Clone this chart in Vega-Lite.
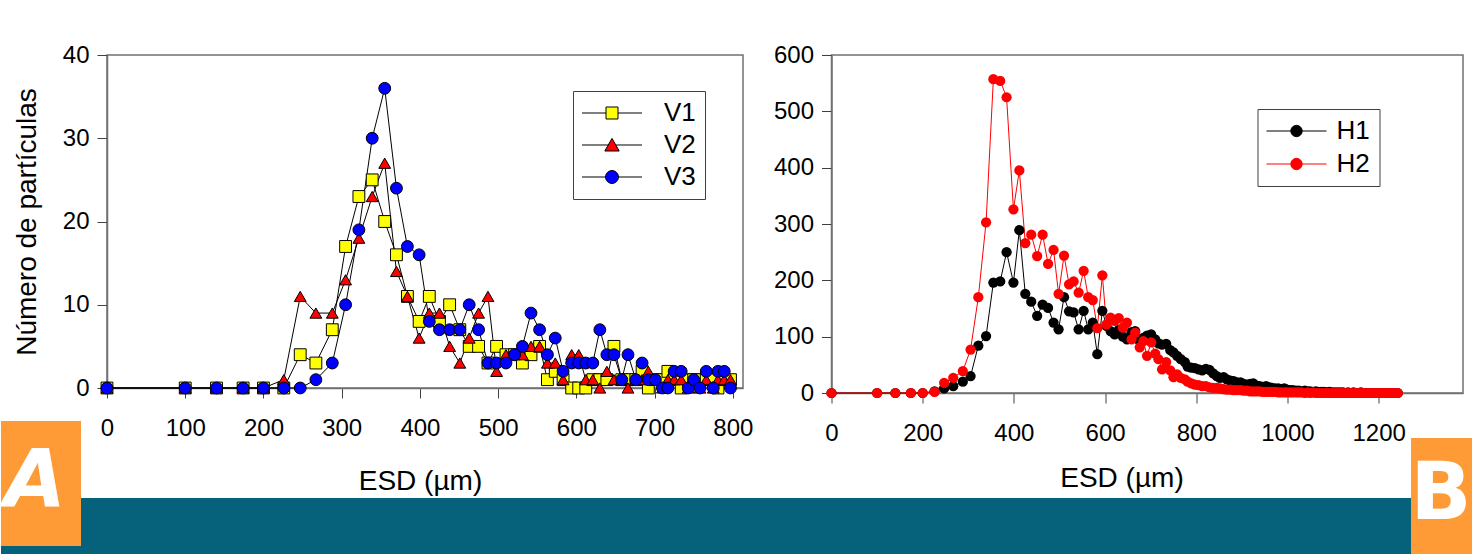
{
"$schema": "https://vega.github.io/schema/vega-lite/v6.json",
"background": "white",
"padding": {"left": 0, "right": 0, "top": 42, "bottom": 0},
"columns": 2,
"bounds": "flush",
"spacing": {"row": 105, "column": 88.5},
"config": {
  "font": "Liberation Sans",
  "view": {"stroke": "#707070", "strokeWidth": 1.5},
  "axis": {"grid": false, "domainColor": "#707070", "domainWidth": 1.5, "tickColor": "#404040", "tickSize": 10, "tickWidth": 1,
    "labelFont": "Liberation Sans", "labelFontSize": 24, "labelColor": "black", "labelFlush": false, "labelOverlap": false,
    "titleFont": "Liberation Sans", "titleFontSize": 28, "titleFontWeight": "normal", "titleColor": "black"}
},
"datasets": {
"dsA": [
{"s":"V1","esd":0,"n":0},{"s":"V1","esd":100,"n":0},{"s":"V1","esd":140,"n":0},{"s":"V1","esd":174,"n":0},{"s":"V1","esd":200,"n":0},{"s":"V1","esd":226,"n":0},{"s":"V1","esd":247,"n":4},{"s":"V1","esd":267,"n":3},{"s":"V1","esd":288,"n":7},{"s":"V1","esd":305,"n":17},{"s":"V1","esd":322,"n":23},{"s":"V1","esd":339,"n":25},{"s":"V1","esd":355,"n":20},{"s":"V1","esd":370,"n":16},{"s":"V1","esd":384,"n":11},{"s":"V1","esd":399,"n":8},{"s":"V1","esd":412,"n":11},{"s":"V1","esd":425,"n":8},{"s":"V1","esd":438,"n":10},{"s":"V1","esd":451,"n":7},{"s":"V1","esd":463,"n":5},{"s":"V1","esd":475,"n":5},{"s":"V1","esd":487,"n":3},{"s":"V1","esd":498,"n":5},{"s":"V1","esd":510,"n":4},{"s":"V1","esd":521,"n":4},{"s":"V1","esd":531,"n":3},{"s":"V1","esd":542,"n":4},{"s":"V1","esd":553,"n":5},{"s":"V1","esd":563,"n":1},{"s":"V1","esd":573,"n":2},{"s":"V1","esd":583,"n":1},{"s":"V1","esd":594,"n":0},{"s":"V1","esd":603,"n":0},{"s":"V1","esd":612,"n":0},{"s":"V1","esd":621,"n":1},{"s":"V1","esd":630,"n":1},{"s":"V1","esd":639,"n":1},{"s":"V1","esd":648,"n":5},{"s":"V1","esd":658,"n":1},{"s":"V1","esd":666,"n":1},{"s":"V1","esd":676,"n":1},{"s":"V1","esd":684,"n":2},{"s":"V1","esd":692,"n":0},{"s":"V1","esd":701,"n":1},{"s":"V1","esd":710,"n":1},{"s":"V1","esd":717,"n":2},{"s":"V1","esd":725,"n":1},{"s":"V1","esd":734,"n":0},{"s":"V1","esd":743,"n":1},{"s":"V1","esd":750,"n":1},{"s":"V1","esd":758,"n":1},{"s":"V1","esd":766,"n":1},{"s":"V1","esd":775,"n":1},{"s":"V1","esd":781,"n":0},{"s":"V1","esd":789,"n":1},{"s":"V1","esd":797,"n":1},
{"s":"V2","esd":0,"n":0},{"s":"V2","esd":100,"n":0},{"s":"V2","esd":140,"n":0},{"s":"V2","esd":174,"n":0},{"s":"V2","esd":200,"n":0},{"s":"V2","esd":226,"n":1},{"s":"V2","esd":247,"n":11},{"s":"V2","esd":267,"n":9},{"s":"V2","esd":288,"n":9},{"s":"V2","esd":305,"n":13},{"s":"V2","esd":322,"n":18},{"s":"V2","esd":339,"n":23},{"s":"V2","esd":355,"n":27},{"s":"V2","esd":370,"n":14},{"s":"V2","esd":384,"n":11},{"s":"V2","esd":399,"n":6},{"s":"V2","esd":412,"n":9},{"s":"V2","esd":425,"n":9},{"s":"V2","esd":438,"n":5},{"s":"V2","esd":451,"n":3},{"s":"V2","esd":463,"n":6},{"s":"V2","esd":475,"n":9},{"s":"V2","esd":487,"n":11},{"s":"V2","esd":498,"n":2},{"s":"V2","esd":510,"n":4},{"s":"V2","esd":521,"n":4},{"s":"V2","esd":531,"n":4},{"s":"V2","esd":542,"n":5},{"s":"V2","esd":553,"n":5},{"s":"V2","esd":563,"n":3},{"s":"V2","esd":573,"n":3},{"s":"V2","esd":583,"n":1},{"s":"V2","esd":594,"n":4},{"s":"V2","esd":603,"n":4},{"s":"V2","esd":612,"n":1},{"s":"V2","esd":621,"n":1},{"s":"V2","esd":630,"n":0},{"s":"V2","esd":639,"n":2},{"s":"V2","esd":648,"n":1},{"s":"V2","esd":658,"n":1},{"s":"V2","esd":666,"n":0},{"s":"V2","esd":676,"n":1},{"s":"V2","esd":684,"n":1},{"s":"V2","esd":692,"n":2},{"s":"V2","esd":701,"n":1},{"s":"V2","esd":710,"n":0},{"s":"V2","esd":717,"n":1},{"s":"V2","esd":725,"n":1},{"s":"V2","esd":734,"n":1},{"s":"V2","esd":743,"n":0},{"s":"V2","esd":750,"n":1},{"s":"V2","esd":758,"n":0},{"s":"V2","esd":766,"n":1},{"s":"V2","esd":775,"n":0},{"s":"V2","esd":781,"n":1},{"s":"V2","esd":789,"n":1},{"s":"V2","esd":797,"n":1},
{"s":"V3","esd":0,"n":0},{"s":"V3","esd":100,"n":0},{"s":"V3","esd":140,"n":0},{"s":"V3","esd":174,"n":0},{"s":"V3","esd":200,"n":0},{"s":"V3","esd":226,"n":0},{"s":"V3","esd":247,"n":0},{"s":"V3","esd":267,"n":1},{"s":"V3","esd":288,"n":3},{"s":"V3","esd":305,"n":10},{"s":"V3","esd":322,"n":19},{"s":"V3","esd":339,"n":30},{"s":"V3","esd":355,"n":36},{"s":"V3","esd":370,"n":24},{"s":"V3","esd":384,"n":17},{"s":"V3","esd":399,"n":16},{"s":"V3","esd":412,"n":8},{"s":"V3","esd":425,"n":7},{"s":"V3","esd":438,"n":7},{"s":"V3","esd":451,"n":7},{"s":"V3","esd":463,"n":10},{"s":"V3","esd":475,"n":7},{"s":"V3","esd":487,"n":3},{"s":"V3","esd":498,"n":3},{"s":"V3","esd":510,"n":3},{"s":"V3","esd":521,"n":4},{"s":"V3","esd":531,"n":5},{"s":"V3","esd":542,"n":9},{"s":"V3","esd":553,"n":7},{"s":"V3","esd":563,"n":4},{"s":"V3","esd":573,"n":6},{"s":"V3","esd":583,"n":2},{"s":"V3","esd":594,"n":3},{"s":"V3","esd":603,"n":3},{"s":"V3","esd":612,"n":3},{"s":"V3","esd":621,"n":3},{"s":"V3","esd":630,"n":7},{"s":"V3","esd":639,"n":4},{"s":"V3","esd":648,"n":4},{"s":"V3","esd":658,"n":1},{"s":"V3","esd":666,"n":4},{"s":"V3","esd":676,"n":1},{"s":"V3","esd":684,"n":3},{"s":"V3","esd":692,"n":1},{"s":"V3","esd":701,"n":1},{"s":"V3","esd":710,"n":0},{"s":"V3","esd":717,"n":0},{"s":"V3","esd":725,"n":2},{"s":"V3","esd":734,"n":2},{"s":"V3","esd":743,"n":0},{"s":"V3","esd":750,"n":1},{"s":"V3","esd":758,"n":0},{"s":"V3","esd":766,"n":2},{"s":"V3","esd":775,"n":0},{"s":"V3","esd":781,"n":2},{"s":"V3","esd":789,"n":2},{"s":"V3","esd":797,"n":0}
],
"dsB": [
{"s":"H1","esd":0,"n":0},{"s":"H1","esd":100,"n":0},{"s":"H1","esd":140,"n":0},{"s":"H1","esd":174,"n":0},{"s":"H1","esd":200,"n":0},{"s":"H1","esd":226,"n":3},{"s":"H1","esd":247,"n":8},{"s":"H1","esd":267,"n":12},{"s":"H1","esd":288,"n":20},{"s":"H1","esd":305,"n":30},{"s":"H1","esd":322,"n":84},{"s":"H1","esd":339,"n":101},{"s":"H1","esd":355,"n":196},{"s":"H1","esd":370,"n":198},{"s":"H1","esd":384,"n":250},{"s":"H1","esd":399,"n":196},{"s":"H1","esd":412,"n":289},{"s":"H1","esd":425,"n":176},{"s":"H1","esd":438,"n":162},{"s":"H1","esd":451,"n":137},{"s":"H1","esd":463,"n":157},{"s":"H1","esd":475,"n":151},{"s":"H1","esd":487,"n":125},{"s":"H1","esd":498,"n":113},{"s":"H1","esd":510,"n":170},{"s":"H1","esd":521,"n":145},{"s":"H1","esd":531,"n":143},{"s":"H1","esd":542,"n":113},{"s":"H1","esd":553,"n":146},{"s":"H1","esd":563,"n":113},{"s":"H1","esd":573,"n":125},{"s":"H1","esd":583,"n":69},{"s":"H1","esd":594,"n":146},{"s":"H1","esd":603,"n":119},
{"s":"H1","esd":612,"n":110},{"s":"H1","esd":621,"n":104},{"s":"H1","esd":630,"n":112},{"s":"H1","esd":639,"n":100},{"s":"H1","esd":648,"n":95},{"s":"H1","esd":658,"n":108},{"s":"H1","esd":666,"n":110},{"s":"H1","esd":676,"n":92},{"s":"H1","esd":684,"n":98},{"s":"H1","esd":692,"n":102},{"s":"H1","esd":701,"n":104},{"s":"H1","esd":710,"n":95},{"s":"H1","esd":717,"n":88},{"s":"H1","esd":725,"n":86},{"s":"H1","esd":734,"n":87},{"s":"H1","esd":743,"n":76},{"s":"H1","esd":750,"n":72},{"s":"H1","esd":758,"n":66},{"s":"H1","esd":766,"n":60},{"s":"H1","esd":775,"n":55},{"s":"H1","esd":781,"n":47},{"s":"H1","esd":789,"n":45},{"s":"H1","esd":797,"n":44},
{"s":"H1","esd":805,"n":42},{"s":"H1","esd":813,"n":40},{"s":"H1","esd":821,"n":43},{"s":"H1","esd":829,"n":41},{"s":"H1","esd":837,"n":35},{"s":"H1","esd":845,"n":30},{"s":"H1","esd":852,"n":27},{"s":"H1","esd":860,"n":28},{"s":"H1","esd":867,"n":24},{"s":"H1","esd":875,"n":22},{"s":"H1","esd":882,"n":21},{"s":"H1","esd":889,"n":19},{"s":"H1","esd":897,"n":19},{"s":"H1","esd":904,"n":16},{"s":"H1","esd":911,"n":15},{"s":"H1","esd":918,"n":16},{"s":"H1","esd":925,"n":17},{"s":"H1","esd":932,"n":13},{"s":"H1","esd":939,"n":12},{"s":"H1","esd":946,"n":11},{"s":"H1","esd":953,"n":12},{"s":"H1","esd":960,"n":10},{"s":"H1","esd":966,"n":9},{"s":"H1","esd":973,"n":8},{"s":"H1","esd":980,"n":8},{"s":"H1","esd":986,"n":7},{"s":"H1","esd":993,"n":8},{"s":"H1","esd":999,"n":6},{"s":"H1","esd":1006,"n":5},{"s":"H1","esd":1012,"n":5},{"s":"H1","esd":1019,"n":4},{"s":"H1","esd":1025,"n":4},{"s":"H1","esd":1031,"n":3},{"s":"H1","esd":1038,"n":4},{"s":"H1","esd":1044,"n":3},{"s":"H1","esd":1050,"n":3},{"s":"H1","esd":1056,"n":2},{"s":"H1","esd":1062,"n":3},{"s":"H1","esd":1068,"n":2},{"s":"H1","esd":1074,"n":2},{"s":"H1","esd":1080,"n":2},{"s":"H1","esd":1086,"n":1},{"s":"H1","esd":1092,"n":2},{"s":"H1","esd":1098,"n":1},{"s":"H1","esd":1104,"n":1},{"s":"H1","esd":1110,"n":1},{"s":"H1","esd":1116,"n":1},{"s":"H1","esd":1122,"n":1},{"s":"H1","esd":1127,"n":0},{"s":"H1","esd":1133,"n":1},{"s":"H1","esd":1139,"n":0},{"s":"H1","esd":1145,"n":1},{"s":"H1","esd":1150,"n":0},{"s":"H1","esd":1156,"n":0},{"s":"H1","esd":1161,"n":1},{"s":"H1","esd":1167,"n":0},{"s":"H1","esd":1173,"n":0},{"s":"H1","esd":1178,"n":0},{"s":"H1","esd":1184,"n":0},{"s":"H1","esd":1189,"n":0},{"s":"H1","esd":1195,"n":0},{"s":"H1","esd":1200,"n":0},{"s":"H1","esd":1205,"n":0},{"s":"H1","esd":1211,"n":0},{"s":"H1","esd":1216,"n":0},{"s":"H1","esd":1221,"n":0},{"s":"H1","esd":1227,"n":0},{"s":"H1","esd":1232,"n":0},{"s":"H1","esd":1237,"n":0},{"s":"H1","esd":1242,"n":0},
{"s":"H2","esd":0,"n":0},{"s":"H2","esd":100,"n":0},{"s":"H2","esd":140,"n":0},{"s":"H2","esd":174,"n":0},{"s":"H2","esd":200,"n":0},{"s":"H2","esd":226,"n":2},{"s":"H2","esd":247,"n":18},{"s":"H2","esd":267,"n":27},{"s":"H2","esd":288,"n":39},{"s":"H2","esd":305,"n":77},{"s":"H2","esd":322,"n":170},{"s":"H2","esd":339,"n":303},{"s":"H2","esd":355,"n":557},{"s":"H2","esd":370,"n":554},{"s":"H2","esd":384,"n":525},{"s":"H2","esd":399,"n":326},{"s":"H2","esd":412,"n":395},{"s":"H2","esd":425,"n":266},{"s":"H2","esd":438,"n":281},{"s":"H2","esd":451,"n":243},{"s":"H2","esd":463,"n":281},{"s":"H2","esd":475,"n":229},{"s":"H2","esd":487,"n":254},{"s":"H2","esd":498,"n":176},{"s":"H2","esd":510,"n":244},{"s":"H2","esd":521,"n":193},{"s":"H2","esd":531,"n":198},{"s":"H2","esd":542,"n":178},{"s":"H2","esd":553,"n":217},{"s":"H2","esd":563,"n":170},{"s":"H2","esd":573,"n":165},{"s":"H2","esd":583,"n":115},{"s":"H2","esd":594,"n":209},{"s":"H2","esd":603,"n":122},
{"s":"H2","esd":612,"n":134},{"s":"H2","esd":621,"n":128},{"s":"H2","esd":630,"n":133},{"s":"H2","esd":639,"n":116},{"s":"H2","esd":648,"n":125},{"s":"H2","esd":658,"n":95},{"s":"H2","esd":666,"n":107},{"s":"H2","esd":676,"n":81},{"s":"H2","esd":684,"n":92},{"s":"H2","esd":692,"n":66},{"s":"H2","esd":701,"n":90},{"s":"H2","esd":710,"n":70},{"s":"H2","esd":717,"n":60},{"s":"H2","esd":725,"n":42},{"s":"H2","esd":734,"n":55},{"s":"H2","esd":743,"n":40},{"s":"H2","esd":750,"n":28},{"s":"H2","esd":758,"n":33},{"s":"H2","esd":766,"n":27},{"s":"H2","esd":775,"n":24},{"s":"H2","esd":781,"n":20},{"s":"H2","esd":789,"n":17},{"s":"H2","esd":797,"n":15},
{"s":"H2","esd":805,"n":14},{"s":"H2","esd":813,"n":12},{"s":"H2","esd":821,"n":12},{"s":"H2","esd":829,"n":10},{"s":"H2","esd":837,"n":9},{"s":"H2","esd":845,"n":9},{"s":"H2","esd":852,"n":8},{"s":"H2","esd":860,"n":7},{"s":"H2","esd":867,"n":6},{"s":"H2","esd":875,"n":6},{"s":"H2","esd":882,"n":5},{"s":"H2","esd":889,"n":5},{"s":"H2","esd":897,"n":5},{"s":"H2","esd":904,"n":4},{"s":"H2","esd":911,"n":4},{"s":"H2","esd":918,"n":3},{"s":"H2","esd":925,"n":3},{"s":"H2","esd":932,"n":3},{"s":"H2","esd":939,"n":3},{"s":"H2","esd":946,"n":2},{"s":"H2","esd":953,"n":2},{"s":"H2","esd":960,"n":2},{"s":"H2","esd":966,"n":2},{"s":"H2","esd":973,"n":2},{"s":"H2","esd":980,"n":1},{"s":"H2","esd":986,"n":1},{"s":"H2","esd":993,"n":1},{"s":"H2","esd":999,"n":1},{"s":"H2","esd":1006,"n":1},{"s":"H2","esd":1012,"n":1},{"s":"H2","esd":1019,"n":1},{"s":"H2","esd":1025,"n":1},{"s":"H2","esd":1031,"n":1},{"s":"H2","esd":1038,"n":0},{"s":"H2","esd":1044,"n":1},{"s":"H2","esd":1050,"n":0},{"s":"H2","esd":1056,"n":1},{"s":"H2","esd":1062,"n":0},{"s":"H2","esd":1068,"n":0},{"s":"H2","esd":1074,"n":0},{"s":"H2","esd":1080,"n":0},{"s":"H2","esd":1086,"n":0},{"s":"H2","esd":1092,"n":0},{"s":"H2","esd":1098,"n":0},{"s":"H2","esd":1104,"n":0},{"s":"H2","esd":1110,"n":0},{"s":"H2","esd":1116,"n":0},{"s":"H2","esd":1122,"n":0},{"s":"H2","esd":1127,"n":0},{"s":"H2","esd":1133,"n":0},{"s":"H2","esd":1139,"n":0},{"s":"H2","esd":1145,"n":0},{"s":"H2","esd":1150,"n":0},{"s":"H2","esd":1156,"n":0},{"s":"H2","esd":1161,"n":0},{"s":"H2","esd":1167,"n":0},{"s":"H2","esd":1173,"n":0},{"s":"H2","esd":1178,"n":0},{"s":"H2","esd":1184,"n":0},{"s":"H2","esd":1189,"n":0},{"s":"H2","esd":1195,"n":0},{"s":"H2","esd":1200,"n":0},{"s":"H2","esd":1205,"n":0},{"s":"H2","esd":1211,"n":0},{"s":"H2","esd":1216,"n":0},{"s":"H2","esd":1221,"n":0},{"s":"H2","esd":1227,"n":0},{"s":"H2","esd":1232,"n":0},{"s":"H2","esd":1237,"n":0},{"s":"H2","esd":1242,"n":0}
]
},
"concat": [
{
  "width": 636, "height": 333,
  "data": {"name": "dsA"},
  "layer": [
    {"mark": {"type": "line", "color": "black", "strokeWidth": 1},
     "encoding": {
       "x": {"field": "esd", "type": "quantitative", "scale": {"domain": [0, 813], "nice": false, "zero": false},
             "axis": {"values": [0,100,200,300,400,500,600,700,800], "format": "d", "title": "ESD (µm)", "labelPadding": 18, "titlePadding": 27, "titleX": 313}},
       "y": {"field": "n", "type": "quantitative", "scale": {"domain": [0, 40], "nice": false},
             "axis": {"values": [0,10,20,30,40], "format": "d", "title": "Número de partículas", "labelPadding": 8, "titlePadding": 21}},
       "detail": {"field": "s"}}},
    {"mark": {"type": "point", "filled": true, "opacity": 1, "stroke": "black", "strokeWidth": 1, "size": 140},
     "encoding": {
       "x": {"field": "esd", "type": "quantitative"},
       "y": {"field": "n", "type": "quantitative"},
       "shape": {"field": "s", "scale": {"domain": ["V1","V2","V3"], "range": ["square","triangle-up","circle"]}, "legend": null},
       "fill": {"field": "s", "scale": {"domain": ["V1","V2","V3"], "range": ["#FFFF00","#FF0000","#0000FF"]}, "legend": null}}},
    {"transform": [{"filter": "false"}],
     "mark": {"type": "point", "filled": true, "opacity": 1, "stroke": "black", "strokeWidth": 1},
     "encoding": {
       "x": {"field": "esd", "type": "quantitative"},
       "y": {"field": "n", "type": "quantitative"},
       "shape": {"field": "s", "scale": {"domain": ["V1","V2","V3"], "range": [
           "M-2.5,0H-0.5M0.5,0H2.5M-0.5,-0.5H0.5V0.5H-0.5Z",
           "M-2.5,0H-0.31M0.31,0H2.5M0,-0.55L0.6,0.5H-0.6Z",
           "M-2.5,0H-0.54M0.54,0H2.5M0.54,0A0.54,0.54,0,1,1,-0.54,0A0.54,0.54,0,1,1,0.54,0Z"]},
         "legend": {"title": null, "orient": "none", "legendX": 466, "legendY": 36, "symbolSize": 576, "symbolStrokeWidth": 1, "symbolOffset": 17,
           "labelFont": "Liberation Sans", "labelFontSize": 26, "labelColor": "black", "labelOffset": 39, "rowPadding": 6, "padding": 9,
           "strokeColor": "#404040", "fillColor": "white", "labelExpr": "datum.label == 'V3' ? '\u00a0V3' : datum.label"}},
       "fill": {"field": "s", "scale": {"domain": ["V1","V2","V3"], "range": ["#FFFF00","#FF0000","#0000FF"]},
         "legend": {"title": null, "orient": "none", "legendX": 466, "legendY": 36, "symbolSize": 576, "symbolStrokeWidth": 1, "symbolOffset": 17,
           "labelFont": "Liberation Sans", "labelFontSize": 26, "labelColor": "black", "labelOffset": 39, "rowPadding": 6, "padding": 9,
           "strokeColor": "#404040", "fillColor": "white", "labelExpr": "datum.label == 'V3' ? '\u00a0V3' : datum.label"}}}}
  ],
  "resolve": {"scale": {"shape": "independent", "fill": "independent"}}
},
{
  "width": 631.5, "height": 338,
  "data": {"name": "dsB"},
  "layer": [
    {"mark": {"type": "line", "strokeWidth": 1},
     "encoding": {
       "x": {"field": "esd", "type": "quantitative", "scale": {"domain": [0, 1385], "nice": false, "zero": false},
             "axis": {"values": [0,200,400,600,800,1000,1200], "format": "d", "title": "ESD (µm)", "labelPadding": 18, "titlePadding": 19, "titleX": 290}},
       "y": {"field": "n", "type": "quantitative", "scale": {"domain": [0, 600], "nice": false},
             "axis": {"values": [0,100,200,300,400,500,600], "format": "d", "title": null, "labelPadding": 8}},
       "stroke": {"field": "s", "scale": {"domain": ["H1","H2"], "range": ["#000000","#FF0000"]}, "legend": null}}},
    {"mark": {"type": "point", "filled": true, "opacity": 1, "size": 105},
     "encoding": {
       "x": {"field": "esd", "type": "quantitative"},
       "y": {"field": "n", "type": "quantitative"},
       "fill": {"field": "s", "scale": {"domain": ["H1","H2"], "range": ["#000000","#FF0000"]}, "legend": null}}},
    {"transform": [{"filter": "false"}],
     "mark": {"type": "point", "filled": true, "opacity": 1, "strokeWidth": 1},
     "encoding": {
       "x": {"field": "esd", "type": "quantitative"},
       "y": {"field": "n", "type": "quantitative"},
       "fill": {"field": "s", "scale": {"domain": ["H1","H2"], "range": ["#000000","#FF0000"]},
         "legend": {"title": null, "orient": "none", "legendX": 426, "legendY": 54, "symbolSize": 576, "symbolStrokeWidth": 1, "symbolOffset": 17,
           "symbolType": "M-2.5,0H-0.475M0.475,0H2.5M0.475,0A0.475,0.475,0,1,1,-0.475,0A0.475,0.475,0,1,1,0.475,0Z",
           "labelFont": "Liberation Sans", "labelFontSize": 26, "labelColor": "black", "labelOffset": 27, "rowPadding": 7, "padding": 9,
           "strokeColor": "#404040", "fillColor": "white"}},
       "stroke": {"field": "s", "scale": {"domain": ["H1","H2"], "range": ["#000000","#FF0000"]},
         "legend": {"title": null, "orient": "none", "legendX": 426, "legendY": 54, "symbolSize": 576, "symbolStrokeWidth": 1, "symbolOffset": 17,
           "symbolType": "M-2.5,0H-0.475M0.475,0H2.5M0.475,0A0.475,0.475,0,1,1,-0.475,0A0.475,0.475,0,1,1,0.475,0Z",
           "labelFont": "Liberation Sans", "labelFontSize": 26, "labelColor": "black", "labelOffset": 27, "rowPadding": 7, "padding": 9,
           "strokeColor": "#404040", "fillColor": "white"}}}}
  ],
  "resolve": {"scale": {"stroke": "independent", "fill": "independent"}}
},
{
  "width": 636, "height": 57,
  "view": {"stroke": null},
  "data": {"values": [{"k": 1}]},
  "layer": [
    {"mark": {"type": "rect", "color": "#05627A"},
     "encoding": {
       "x": {"datum": -0.16667, "type": "quantitative", "scale": {"domain": [0, 1], "nice": false, "zero": false}, "axis": null},
       "x2": {"datum": 2.1478},
       "y": {"datum": 0, "type": "quantitative", "scale": {"domain": [0, 1], "nice": false, "zero": false}, "axis": null},
       "y2": {"datum": 1}}},
    {"mark": {"type": "rect", "color": "#FF9B37"},
     "encoding": {"x": {"datum": -0.16667, "type": "quantitative"}, "x2": {"datum": -0.04088}, "y": {"datum": 0.158, "type": "quantitative"}, "y2": {"datum": 2.351}}},
    {"mark": {"type": "rect", "color": "#FF9B37"},
     "encoding": {"x": {"datum": 2.05031, "type": "quantitative"}, "x2": {"datum": 2.1478}, "y": {"datum": 0, "type": "quantitative"}, "y2": {"datum": 2.053}}},
    {"mark": {"type": "text", "text": "A", "color": "white", "font": "DejaVu Sans", "fontSize": 80, "fontWeight": "bold", "fontStyle": "italic", "align": "center", "baseline": "middle"},
     "encoding": {"x": {"datum": -0.11321, "type": "quantitative"}, "y": {"datum": 1.263, "type": "quantitative"}}},
    {"mark": {"type": "text", "text": "B", "color": "white", "font": "DejaVu Sans", "fontSize": 80, "fontWeight": "bold", "align": "center", "baseline": "middle"},
     "encoding": {"x": {"datum": 2.0975, "type": "quantitative"}, "y": {"datum": 1.053, "type": "quantitative"}}}
  ]
}
]
}
